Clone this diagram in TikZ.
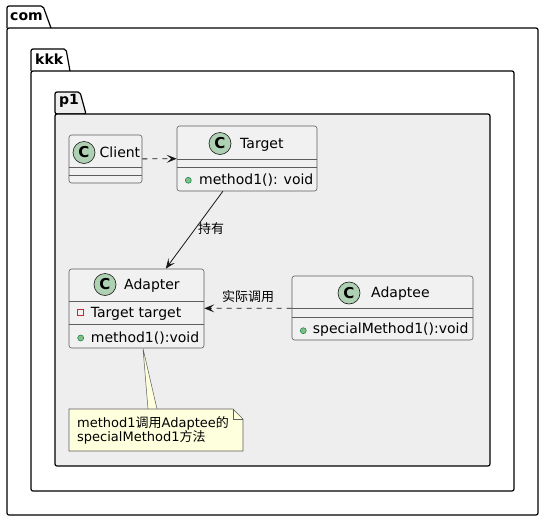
\documentclass[tikz,border=0pt]{standalone}
\usepackage{fontspec}
\setmainfont{DejaVu Sans}
\newfontfamily\cjk{Noto Sans CJK SC}
\usetikzlibrary{arrows.meta}
\definecolor{linedark}{HTML}{181818}
\definecolor{clsfill}{HTML}{F1F1F1}
\definecolor{pkgfill}{HTML}{EEEEEE}
\definecolor{cgreen}{HTML}{ADD1B2}
\definecolor{notefill}{HTML}{FEFFDD}
\definecolor{pubfill}{HTML}{84BE84}
\definecolor{publine}{HTML}{038048}
\definecolor{privline}{HTML}{C82930}
\newcommand\umlfont{\fontsize{14}{16}\selectfont}
\newcommand\lblfont{\fontsize{13}{15}\selectfont}
\tikzset{
  pkg/.style={draw=black,line width=1.2pt,rounded corners=2pt},
  cls/.style={draw=linedark!70,fill=clsfill,line width=0.6pt,rounded corners=2.5pt,inner sep=0pt},
  sep/.style={draw=linedark!70,line width=0.6pt},
  ccirc/.style={circle,draw=linedark,fill=cgreen,line width=0.6pt,minimum size=22pt,inner sep=0pt,
    font=\bfseries\fontsize{15}{15}\selectfont},
  txt/.style={anchor=base west,inner sep=0pt,font=\umlfont},
  lbl/.style={anchor=base,inner sep=0pt,font=\lblfont\cjk},
  pub/.style={circle,draw=publine,fill=pubfill,line width=0.5pt,minimum size=6pt,inner sep=0pt},
  priv/.style={rectangle,draw=privline,line width=0.6pt,minimum size=6pt,inner sep=0pt},
  dep/.style={draw=linedark,line width=0.8pt,dash pattern=on 5pt off 5pt},
  assoc/.style={draw=linedark,line width=0.8pt},
  >={Stealth[length=10pt,width=8pt,inset=4.5pt]}
}
\begin{document}
\begin{tikzpicture}[x=1pt,y=-1pt]
  \useasboundingbox (0,0) rectangle (544,520);
  % packages
  \draw[pkg] (7,28) -- (7,6) -- (43,6) -- (51,28);
  \draw[pkg] (7,28) rectangle (538,515);
  \node[txt,font=\bfseries\umlfont] (com) at (10,20.5) {com};
  \draw[pkg] (31,71) -- (31,49) -- (66,49) -- (70,71);
  \draw[pkg] (31,71) rectangle (514,491);
  \node[txt,font=\bfseries\umlfont] (kkk) at (35,64) {kkk};
  \draw[pkg,fill=pkgfill] (55,114) -- (55,92) -- (80,92) -- (86,114) -- cycle;
  \draw[pkg,fill=pkgfill] (55,114) rectangle (490,466);
  \node[txt,font=\bfseries\umlfont] (p1) at (59,104) {p1};
  % classes
  \node[cls,minimum width=73pt,minimum height=48pt] (client) at (105.5,159) {};
  \draw[sep] (69,167) -- (142,167);
  \draw[sep] (69,175) -- (142,175);
  \node[ccirc] (clientC) at (84,152.5) {C};
  \node[txt] (clientT) at (99.5,157) {Client};

  \node[cls,minimum width=140pt,minimum height=65pt] (target) at (247,158.5) {};
  \draw[sep] (177,159) -- (317,159);
  \draw[sep] (177,167.5) -- (317,167.5);
  \node[ccirc] (targetC) at (220,143.5) {C};
  \node[txt] (targetT) at (240,148) {Target};
  \node[pub] (targetM) at (188.3,180.3) {};
  \node[txt] (targetMT) at (199,184) {method1(): void};

  \node[cls,minimum width=135pt,minimum height=79pt] (adapter) at (136.5,308.5) {};
  \draw[sep] (69,301) -- (204,301);
  \draw[sep] (69,324) -- (204,324);
  \node[ccirc] (adapterC) at (105,284.5) {C};
  \node[txt] (adapterT) at (124,289) {Adapter};
  \node[priv] (adapterF) at (80.3,312.5) {};
  \node[txt] (adapterFT) at (90.7,317) {Target target};
  \node[pub] (adapterM) at (80.7,338) {};
  \node[txt] (adapterMT) at (90.7,342) {method1():void};

  \node[cls,minimum width=181pt,minimum height=64pt] (adaptee) at (382.5,308) {};
  \draw[sep] (292,308) -- (473,308);
  \draw[sep] (292,317) -- (473,317);
  \node[ccirc] (adapteeC) at (349,293) {C};
  \node[txt] (adapteeT) at (371,297.3) {Adaptee};
  \node[pub] (adapteeM) at (303.3,330.7) {};
  \node[txt] (adapteeMT) at (312.7,333.5) {specialMethod1():void};

  % note
  \coordinate (nlink) at (143,348.5);
  \fill[notefill] (nlink) -- (148,410) -- (157,410) -- cycle;
  \draw[linedark!70,line width=0.5pt] (148,409) -- (nlink) -- (157,409);
  \draw[draw=linedark!70,fill=notefill,line width=0.6pt] (69,409) -- (233,409) -- (243,419) -- (243,451) -- (69,451) -- cycle;
  \draw[linedark!70,line width=0.6pt] (233,409) -- (233,419) -- (243,419);
  \node[txt,font=\lblfont] (note1) at (77,427) {method1{\cjk 调用}Adaptee{\cjk 的}};
  \node[txt,font=\lblfont] (note2) at (77,441.7) {specialMethod1{\cjk 方法}};

  % relations
  \draw[dep,->] (client) -- (target);
  \draw[assoc,->] (target) -- (adapter);
  \node[lbl] (holdL) at (211,233.5) {持有};
  \draw[dep,->] (adaptee) -- (adapter);
  \node[lbl] (callL) at (248,301) {实际调用};
\end{tikzpicture}
\end{document}
